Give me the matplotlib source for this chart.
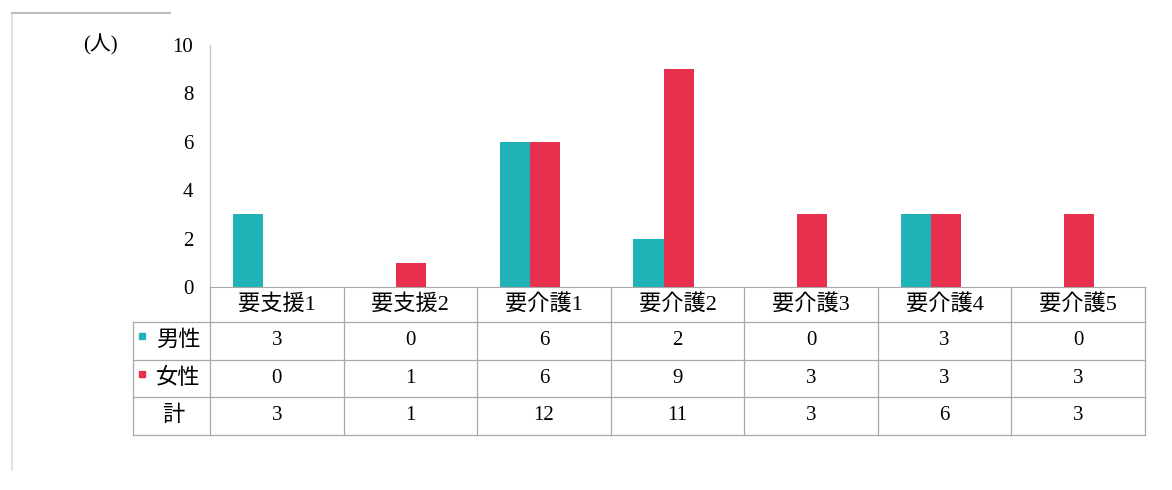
import matplotlib.pyplot as plt
import numpy as np
from matplotlib.transforms import blended_transform_factory

plt.rcParams['font.family'] = ['Liberation Serif', 'Noto Sans CJK JP']

categories = ["要支援1", "要支援2", "要介護1", "要介護2", "要介護3", "要介護4", "要介護5"]
male = [3, 0, 6, 2, 0, 3, 0]
female = [0, 1, 6, 9, 3, 3, 3]
total = [3, 1, 12, 11, 3, 6, 3]
row_labels = ["男性", "女性", "計"]
yticks = [0, 2, 4, 6, 8, 10]

MALE_C = "#1fb3b8"
FEMALE_C = "#e8304e"
GRID_C = "#a8a8a8"

fig = plt.figure(figsize=(11.72, 4.9), dpi=100)
ax = fig.add_axes([0.1792, 0.4143, 0.7978, 0.4939])

x = np.arange(len(categories))
w = 0.225
off = -0.105
ax.bar(x + off - w / 2, male, width=w, color=MALE_C)
ax.bar(x + off + w / 2, female, width=w, color=FEMALE_C)

ax.set_xlim(-0.5, len(categories) - 0.5)
ax.set_ylim(0, 10)
ax.set_yticks(yticks)
ax.set_yticklabels([str(t) for t in yticks], fontsize=15)
ax.tick_params(axis='y', length=0, pad=12)
ax.set_xticks([])
for s in ["top", "right"]:
    ax.spines[s].set_visible(False)
ax.spines["left"].set_color("#c8c8c8")
ax.spines["bottom"].set_color(GRID_C)
ax.spines["left"].set_linewidth(1.0)
ax.text(-0.1176, 1.0, "(人)", transform=ax.transAxes, fontsize=15, ha="center", va="center")

# data table under the axis
tr = blended_transform_factory(ax.transData, ax.transAxes)
row_y = [0.0, -0.1446, -0.3017, -0.4545, -0.6116]
left_edge = -0.5 - 77 / 133.6
right_edge = len(categories) - 0.5

for yy in row_y[1:]:
    ax.plot([left_edge, right_edge], [yy, yy], transform=tr, color=GRID_C, lw=0.9, clip_on=False)
for b in np.arange(len(categories) + 1) - 0.5:
    ax.plot([b, b], [row_y[0], row_y[-1]], transform=tr, color=GRID_C, lw=0.9, clip_on=False)
ax.plot([left_edge, left_edge], [row_y[1], row_y[-1]], transform=tr, color=GRID_C, lw=0.9, clip_on=False)

mid = [(row_y[k] + row_y[k + 1]) / 2 for k in range(4)]
for i, cat in enumerate(categories):
    ax.text(i, mid[0], cat, transform=tr, ha="center", va="center", fontsize=16)
    for r, vals in enumerate([male, female, total]):
        ax.text(i, mid[r + 1], str(vals[i]), transform=tr, ha="center", va="center", fontsize=15)

label_x = left_edge + 0.17
for r, lab in enumerate(row_labels):
    lx = label_x + (0.05 if r == 2 else 0.0)
    ax.text(lx, mid[r + 1], lab, transform=tr, ha="left", va="center", fontsize=16)
ax.plot([left_edge + 0.07], [mid[1] + 0.02], transform=tr, marker="s", ms=5, color=MALE_C, clip_on=False)
ax.plot([left_edge + 0.07], [mid[2] + 0.02], transform=tr, marker="s", ms=5, color=FEMALE_C, clip_on=False)

# faint scan frame
fig.add_artist(plt.Line2D([12 / 1172, 12 / 1172], [1 - 13 / 490, 1 - 470 / 490], color="#dddddd", lw=1.2))
fig.add_artist(plt.Line2D([12 / 1172, 170 / 1172], [1 - 13 / 490, 1 - 13 / 490], color="#bbbbbb", lw=1.5))

fig.savefig("out.png", dpi=100)
